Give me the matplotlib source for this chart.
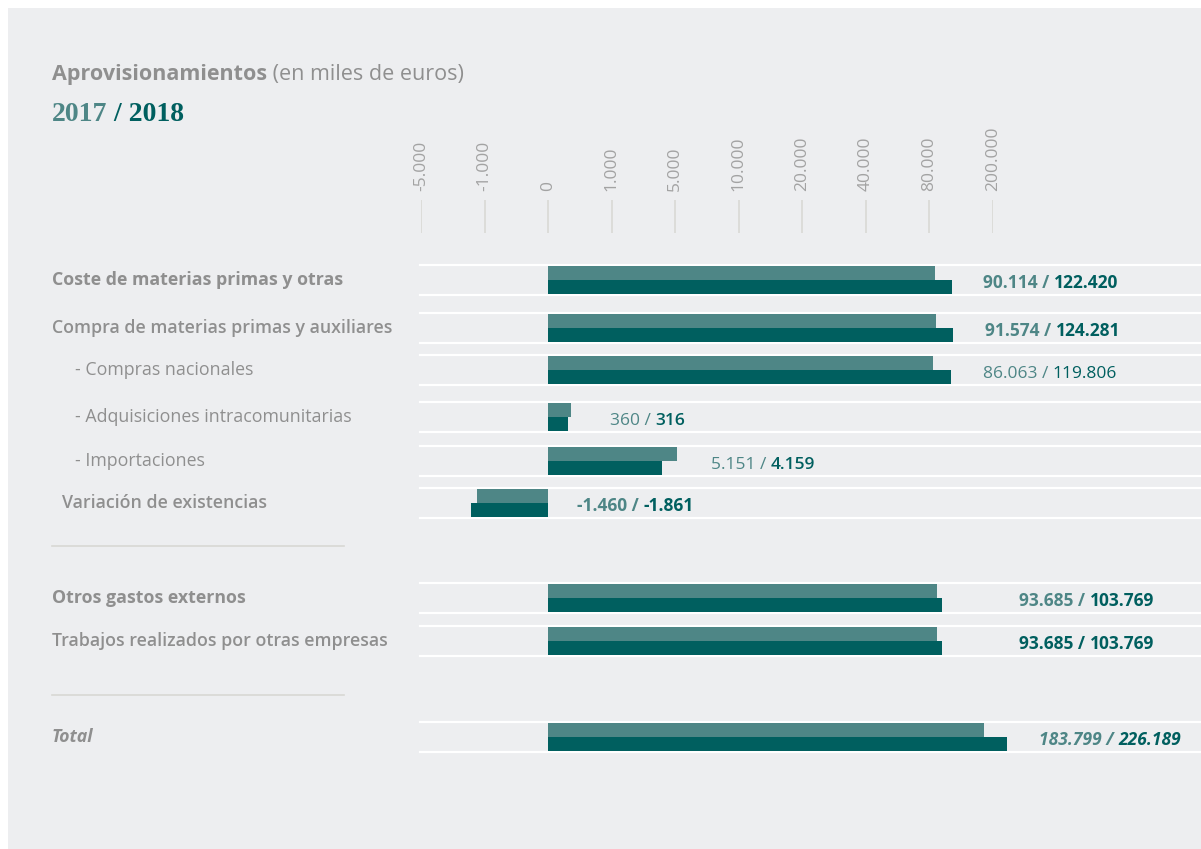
import numpy as np
import matplotlib
matplotlib.use("Agg")
import matplotlib.pyplot as plt
from matplotlib.patches import Rectangle
from matplotlib.transforms import blended_transform_factory

# %%
# data
categories = [
    "Coste de materias primas y otras",
    "Compra de materias primas y auxiliares",
    "- Compras nacionales",
    "- Adquisiciones intracomunitarias",
    "- Importaciones",
    "Variación de existencias",
    "Otros gastos externos",
    "Trabajos realizados por otras empresas",
    "Total",
]
values_2017 = [90114, 91574, 86063, 360, 5151, -1460, 93685, 93685, 183799]
values_2018 = [122420, 124281, 119806, 316, 4159, -1861, 103769, 103769, 226189]
labels_2017 = ["90.114", "91.574", "86.063", "360", "5.151", "-1.460", "93.685", "93.685", "183.799"]
labels_2018 = ["122.420", "124.281", "119.806", "316", "4.159", "-1.861", "103.769", "103.769", "226.189"]
tick_values = [-5000, -1000, 0, 1000, 5000, 10000, 20000, 40000, 80000, 200000]
tick_labels = ["-5.000", "-1.000", "0", "1.000", "5.000", "10.000", "20.000", "40.000", "80.000", "200.000"]

# %%
# layout / styles (pixel units, y downward)
W, H = 1201, 849
BG = "#edeef0"
C17 = "#4e8686"
C18 = "#005f5f"
GREY = "#8f8f8f"
TICKGREY = "#a3a3a3"
FONT = "Open Sans"

row_y = [280, 328, 370, 417, 461, 503, 598, 641, 737]
label_x = [52, 52, 75, 75, 75, 62, 52, 52, 52]
label_w = ["bold", "semibold", "normal", "normal", "normal", "semibold", "bold", "semibold", "bold"]
label_s = ["normal"] * 8 + ["italic"]
value_x = [983, 985, 983, 610, 711, 577, 1019, 1019, 1039]
value_w1 = ["bold", "bold", "normal", "normal", "normal", "bold", "bold", "bold", "bold"]
value_w2 = ["bold", "bold", "normal", "semibold", "semibold", "bold", "bold", "bold", "bold"]
value_c1 = [C17] * 7 + [C18, C17]
bar_h = 14


# piecewise linear scale with equal spacing between ticks
tv = np.array(tick_values, dtype=float)
tp = np.arange(len(tv), dtype=float)


def fwd(x):
    x = np.asarray(x, dtype=float)
    out = np.interp(x, tv, tp)
    out = np.where(x < tv[0], tp[0] + (x - tv[0]) / (tv[1] - tv[0]), out)
    out = np.where(x > tv[-1], tp[-1] + (x - tv[-1]) / (tv[-1] - tv[-2]), out)
    return out


def inv(p):
    p = np.asarray(p, dtype=float)
    out = np.interp(p, tp, tv)
    out = np.where(p < tp[0], tv[0] + (p - tp[0]) * (tv[1] - tv[0]), out)
    out = np.where(p > tp[-1], tv[-1] + (p - tp[-1]) * (tv[-1] - tv[-2]), out)
    return out


fig = plt.figure(figsize=(W / 100, H / 100), dpi=100, facecolor="white")
fig.patches.append(Rectangle((8 / W, 0), 1 - 8 / W, 1 - 8 / H, transform=fig.transFigure,
                             facecolor=BG, edgecolor="none", zorder=-10))

x0, x1 = 421, 993
ax = fig.add_axes([x0 / W, 0, (x1 - x0) / W, 1])
ax.set_xscale("function", functions=(fwd, inv))
ax.set_xlim(tick_values[0], tick_values[-1])
ax.set_ylim(H, 0)
ax.set_facecolor("none")
ax.axis("off")

figx = blended_transform_factory(fig.transFigure, ax.transData)
px = lambda v: v / W

# ticks
for v, lab in zip(tick_values, tick_labels):
    ax.plot([v, v], [200, 233], color="#d9d9d5", lw=1.2, solid_capstyle="butt")
    ax.text(v, 191, lab, rotation=90, ha="center", va="bottom", color=TICKGREY,
            fontsize=12.5, family=FONT)

# rows
for i, y in enumerate(row_y):
    for yl in [y - bar_h - 1, y + bar_h + 1]:
        ax.plot([px(420), px(1201)], [yl, yl], transform=figx,
                color="white", lw=1.6, clip_on=False, zorder=2)
    ax.barh(y - bar_h / 2, values_2017[i], height=bar_h, color=C17, zorder=3, clip_on=False)
    ax.barh(y + bar_h / 2, values_2018[i], height=bar_h, color=C18, zorder=3, clip_on=False)

# separators
for ys in [546, 695]:
    ax.plot([px(52), px(344)], [ys, ys], transform=figx, color="#d8d8d4", lw=1.2, clip_on=False)

renderer = fig.canvas.get_renderer()


def runs(x, y, parts, transform):
    # draw consecutive text pieces with different styles
    cur = x
    for s, color, weight, style, size, fam in parts:
        t = fig.text(cur, y, s, color=color, fontweight=weight, fontstyle=style,
                     fontsize=size, family=fam, transform=transform, va="baseline")
        bb = t.get_window_extent(renderer)
        cur = cur + bb.width / W


tr = blended_transform_factory(fig.transFigure, ax.transData)

for i, y in enumerate(row_y):
    fig.text(px(label_x[i]), y + 5, categories[i], color=GREY, fontweight=label_w[i],
             fontstyle=label_s[i], fontsize=12.8, family=FONT, transform=tr, va="baseline")
    st = "italic" if i == 8 else "normal"
    runs(px(value_x[i]), y + 8,
         [(labels_2017[i] + " / ", value_c1[i], value_w1[i], st, 12.5, FONT),
          (labels_2018[i], C18, value_w2[i], st, 12.5, FONT)], tr)

# titles
runs(px(52), 80, [("Aprovisionamientos", GREY, "bold", "normal", 15.5, FONT),
                  (" (en miles de euros)", GREY, "normal", "normal", 15.5, FONT)], tr)
runs(px(52), 121, [("2017", C17, "bold", "normal", 20, "Liberation Serif"),
                   (" / 2018", C18, "bold", "normal", 20, "Liberation Serif")], tr)

fig.savefig("out.png", dpi=100, facecolor="white")
